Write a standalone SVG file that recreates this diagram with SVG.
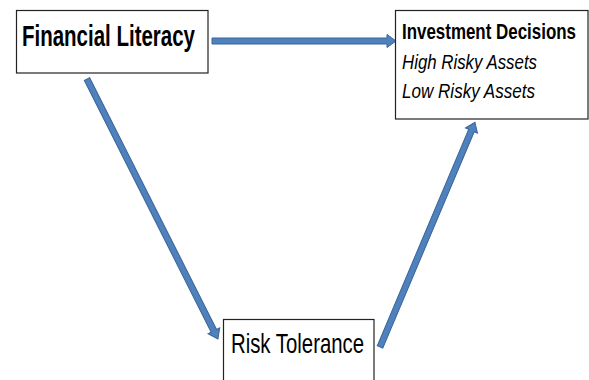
<svg xmlns="http://www.w3.org/2000/svg" width="589" height="380" viewBox="0 0 589 380">
<style>
.box{fill:#fff;stroke:#222;stroke-width:1.2}
.arrow{fill:#4f81bd;stroke:#3a6498;stroke-width:1}
.t{font-family:"Liberation Sans",Arial,sans-serif;fill:#000}
</style>
<rect width="589" height="380" fill="#fff"/>
<g id="connectors">
<path class="arrow" transform="translate(212,41)" d="M0,-3 L175,-3 L175,-6.5 L184,0 L175,6.5 L175,3 L0,3 Z"/>
<path class="arrow" transform="translate(87,79) rotate(63.26)" d="M0,-3 L282,-3 L282,-6.5 L291,0 L282,6.5 L282,3 L0,3 Z"/>
<path class="arrow" transform="translate(380,347) rotate(-67.1)" d="M0,-3 L235,-3 L235,-6.5 L244,0 L235,6.5 L235,3 L0,3 Z"/>
</g>
<g id="financial-literacy">
<rect class="box" x="16.5" y="10.5" width="191.5" height="62.5"/>
<text class="t" x="22" y="46" font-size="30" font-weight="bold" textLength="173" lengthAdjust="spacingAndGlyphs">Financial Literacy</text>
</g>
<g id="investment-decisions">
<rect class="box" x="395.5" y="10.5" width="192.5" height="108.5"/>
<text class="t" x="402" y="39" font-size="22" font-weight="bold" textLength="174" lengthAdjust="spacingAndGlyphs">Investment Decisions</text>
<text class="t" x="402" y="69" font-size="20" font-style="italic" textLength="135" lengthAdjust="spacingAndGlyphs">High Risky Assets</text>
<text class="t" x="402" y="98" font-size="20" font-style="italic" textLength="133" lengthAdjust="spacingAndGlyphs">Low Risky Assets</text>
</g>
<g id="risk-tolerance">
<rect class="box" x="223.5" y="319.5" width="150.5" height="70"/>
<text class="t" x="231" y="353" font-size="28" textLength="133" lengthAdjust="spacingAndGlyphs">Risk Tolerance</text>
</g>
</svg>
